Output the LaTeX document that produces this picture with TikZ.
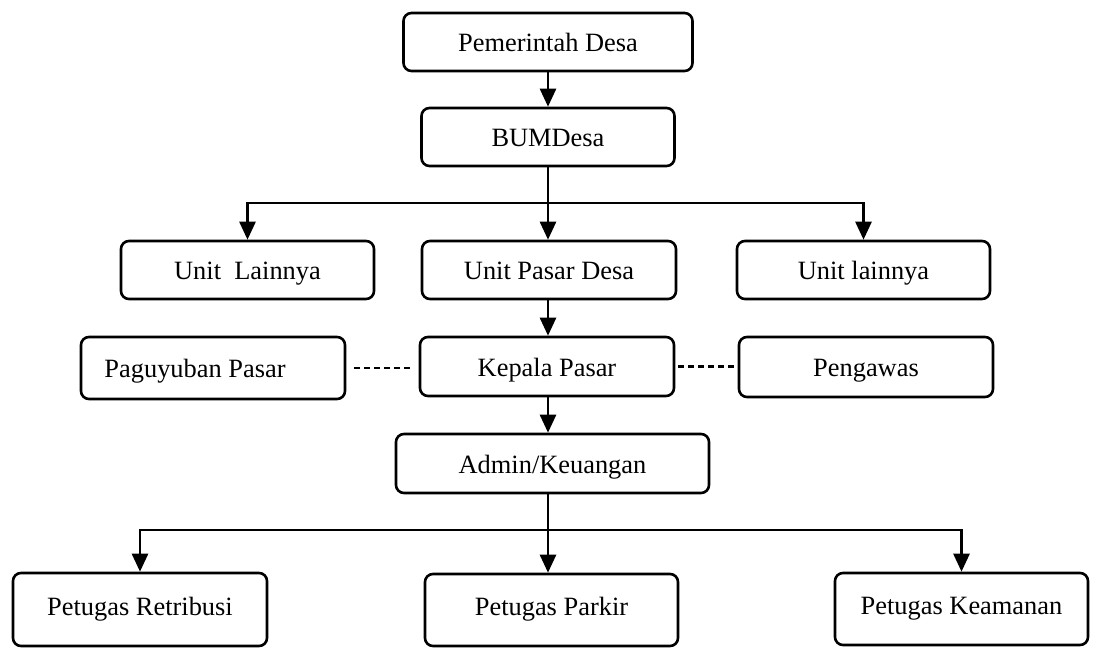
\documentclass[tikz,border=0pt]{standalone}
\usepackage{fontspec}
\setmainfont{Liberation Serif}
\usetikzlibrary{arrows.meta}
\begin{document}
\begin{tikzpicture}[x=0.5pt,y=-0.5pt,
  box/.style={draw, line width=1.3pt, rounded corners=4pt, inner sep=0pt,
    font=\fontsize{13.2}{15}\selectfont, text height=12.5pt, text depth=3pt},
  lowbox/.style={box, text depth=7pt},
  arr/.style={line width=1.3pt, -{Triangle[width=8pt,length=9pt]}},
  plainline/.style={line width=1.3pt},
  dashline/.style={line width=1.1pt, dash pattern=on 3pt off 2pt}]
\useasboundingbox (0,0) rectangle (1097,652);
% boxes
\node[box, minimum width=144.5pt, minimum height=29pt] (pem) at (548,42) {Pemerintah Desa};
\node[box, minimum width=126.5pt, minimum height=29pt] (bum) at (548,137) {BUMDesa};
\node[box, minimum width=126.5pt, minimum height=29pt] (ul) at (247.5,270) {Unit~ Lainnya};
\node[box, minimum width=127pt, minimum height=29pt] (upd) at (549,270) {Unit Pasar Desa};
\node[box, minimum width=126.5pt, minimum height=29pt] (ulr) at (863.5,270) {Unit lainnya};
\node[box, minimum width=132pt, minimum height=31pt] (pag) at (213,368) {\hspace*{-18pt}Paguyuban Pasar};
\node[box, minimum width=127pt, minimum height=29.5pt] (kep) at (547,366.5) {Kepala Pasar};
\node[box, minimum width=127pt, minimum height=30pt] (pen) at (866,367) {Pengawas};
\node[box, minimum width=156.5pt, minimum height=29.5pt] (adm) at (552.5,463.5) {Admin/Keuangan};
\node[lowbox, minimum width=127pt, minimum height=36.5pt] (ret) at (140,609.5) {Petugas Retribusi};
\node[lowbox, minimum width=126.5pt, minimum height=36pt] (par) at (551.5,610) {Petugas Parkir};
\node[lowbox, minimum width=126.5pt, minimum height=36pt] (kea) at (961.5,609) {Petugas Keamanan};
% junctions
\coordinate (j1) at (548,203);
\coordinate (j2) at (548,530);
% connectors
\draw[arr] (pem.south) -- (pem.south |- bum.north);
\draw[arr] (bum.south) -- (bum.south |- upd.north);
\draw[plainline] (ul.north |- j1) -- (ulr.north |- j1);
\draw[arr] (j1) -| (ul.north);
\draw[arr] (j1) -| (ulr.north);
\draw[arr] (bum.south |- upd.south) -- (bum.south |- kep.north);
\draw[arr] (bum.south |- kep.south) -- (bum.south |- adm.north);
\draw[plainline] (bum.south |- adm.south) -- (j2);
\draw[arr] (j2) -- (j2 |- par.north);
\draw[plainline] (ret.north |- j2) -- (kea.north |- j2);
\draw[arr] (j2) -| (ret.north);
\draw[arr] (j2) -| (kea.north);
\draw[dashline] ([xshift=4pt]pag.east) -- ([xshift=-4pt]pag.east -| kep.west);
\draw[dashline] ([xshift=1.5pt]kep.east) -- ([xshift=-1pt]kep.east -| pen.west);
\end{tikzpicture}
\end{document}
